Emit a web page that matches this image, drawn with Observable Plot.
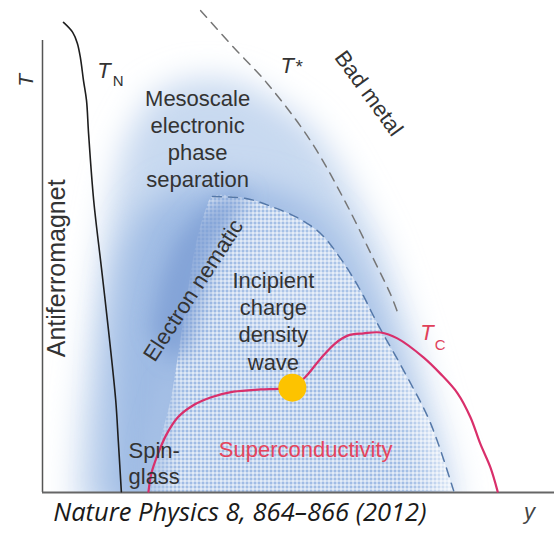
<!DOCTYPE html>
<html>
<head>
<meta charset="utf-8">
<script src="https://cdn.jsdelivr.net/npm/d3@7"></script>
<script src="https://cdn.jsdelivr.net/npm/@observablehq/plot@0.6"></script>
<style>
  html, body { margin: 0; padding: 0; background: #fff; }
  #chart svg { display: block; }
</style>
</head>
<body>
<div id="chart"></div>
<script>
// ---- Data (x = doping y, T = temperature, both normalised 0..1) ----
const tN = [[0.041,1.040],[0.059,1.018],[0.068,0.994],[0.074,0.962],[0.080,0.912],[0.086,0.867],
  [0.090,0.794],[0.100,0.646],[0.115,0.498],[0.129,0.358],[0.143,0.204],[0.148,0.115],[0.154,0.002]];
const tStar = [[0.309,1.066],[0.373,0.985],[0.439,0.905],[0.523,0.779],[0.590,0.646],[0.648,0.513],
  [0.680,0.438],[0.695,0.394]];
const nematic = [[0.332,0.655],[0.400,0.650],[0.451,0.631],[0.498,0.608],[0.543,0.573],[0.582,0.518],
  [0.621,0.447],[0.654,0.374],[0.713,0.254],[0.758,0.153],[0.803,0.004]];
const tC = [[0.207,0.002],[0.213,0.044],[0.225,0.084],[0.242,0.128],[0.264,0.166],[0.293,0.192],
  [0.328,0.210],[0.373,0.223],[0.426,0.228],[0.465,0.230],[0.488,0.235],[0.512,0.254],[0.543,0.296],
  [0.572,0.330],[0.596,0.347],[0.627,0.352],[0.660,0.354],[0.693,0.341],[0.744,0.299],[0.777,0.263],
  [0.811,0.219],[0.836,0.166],[0.855,0.108],[0.875,0.055],[0.889,0.002]];
const marker = [[0.488,0.232]];

// shaded regions (outlines)
const outerRegion = [[0.064,-0.040],[0.074,0.159],[0.094,0.336],[0.113,0.513],[0.133,0.646],[0.162,0.779],
  [0.211,0.878],[0.289,0.916],[0.377,0.912],[0.455,0.867],[0.523,0.812],[0.572,0.735],[0.621,0.635],
  [0.660,0.546],[0.691,0.447],[0.723,0.336],[0.758,0.204],[0.787,0.093],[0.813,-0.040]];
const middleRegion = [[0.123,-0.040],[0.129,0.159],[0.137,0.358],[0.156,0.513],[0.191,0.613],[0.250,0.668],
  [0.328,0.690],[0.426,0.679],[0.504,0.646],[0.563,0.591],[0.611,0.502],[0.656,0.381],[0.699,0.226],
  [0.738,0.093],[0.762,-0.040]];
const nematicBand = [[0.211,0.358],[0.230,0.469],[0.260,0.558],[0.309,0.624],[0.357,0.657],[0.406,0.664],
  [0.377,0.613],[0.338,0.535],[0.309,0.425],[0.285,0.314],[0.250,0.292]];
const spinBand = [[0.182,-0.018],[0.201,0.137],[0.230,0.248],[0.266,0.248],[0.250,0.137],[0.234,-0.018]];
const domeLeft = [[0.211,0.000],[0.230,0.115],[0.250,0.204],[0.266,0.314],[0.281,0.425],[0.299,0.546],[0.318,0.624]];
const dome = domeLeft.concat(nematic);
const domeCore = [[0.387,0.425],[0.406,0.546],[0.465,0.591],[0.543,0.558],[0.592,0.469],[0.582,0.358],
  [0.504,0.314],[0.426,0.336]];

const labels = {
  meso: "Mesoscale\nelectronic\nphase\nseparation",
  cdw: "Incipient\ncharge\ndensity\nwave",
  spin: "Spin-\nglass",
  sc: "Superconductivity",
  afm: "Antiferromagnet",
  nem: "Electron nematic",
  bad: "Bad metal",
  caption: "Nature Physics 8, 864–866 (2012)"
};

const ink = "#333";
const sans = "'Liberation Sans', Arial, Helvetica, sans-serif";

function defs(index, scales, values, dimensions, context) {
  const ns = "http://www.w3.org/2000/svg";
  const d = context.document.createElementNS(ns, "defs");
  d.innerHTML = `
    <filter id="b16" x="-50%" y="-50%" width="200%" height="200%"><feGaussianBlur stdDeviation="16"/></filter>
    <filter id="b10" x="-50%" y="-50%" width="200%" height="200%"><feGaussianBlur stdDeviation="10"/></filter>
    <filter id="b8" x="-50%" y="-50%" width="200%" height="200%"><feGaussianBlur stdDeviation="8"/></filter>
    <pattern id="mesh" width="4" height="4" patternUnits="userSpaceOnUse">
      <path d="M0 0.5H4M0.5 0V4" stroke="#ffffff" stroke-opacity="0.9" stroke-width="1" fill="none"/>
    </pattern>`;
  return d;
}

const X = d => d[0], Y = d => d[1];

const chart = Plot.plot({
  width: 554,
  height: 535,
  marginLeft: 42,
  marginRight: 0,
  marginTop: 40,
  marginBottom: 43,
  x: {domain: [0, 1], axis: null},
  y: {domain: [0, 1], axis: null},
  style: {fontFamily: sans, background: "#fff", overflow: "visible"},
  marks: [
    defs,
    Plot.line(outerRegion, {x: X, y: Y, curve: "linear-closed", fill: "#c8d9f0", stroke: "none", imageFilter: "url(#b16)", clip: true}),
    Plot.line(middleRegion, {x: X, y: Y, curve: "linear-closed", fill: "#9fbbe4", stroke: "none", imageFilter: "url(#b16)", clip: true}),
    Plot.line(domeCore, {x: X, y: Y, curve: "linear-closed", fill: "#ffffff", fillOpacity: 0.15, stroke: "none", imageFilter: "url(#b16)", clip: true}),
    Plot.line(dome, {x: X, y: Y, curve: "catmull-rom", fill: "url(#mesh)", stroke: "none", clip: true}),
    Plot.line(nematicBand, {x: X, y: Y, curve: "linear-closed", fill: "#7d9fd4", fillOpacity: 0.8, stroke: "none", imageFilter: "url(#b10)", clip: true}),
    Plot.line(spinBand, {x: X, y: Y, curve: "linear-closed", fill: "#a6c1e6", fillOpacity: 0.7, stroke: "none", imageFilter: "url(#b8)", clip: true}),
    // axes
    Plot.ruleX([0], {y1: 0, y2: 1, stroke: "#555", strokeWidth: 1.5}),
    Plot.ruleY([0], {x1: 0, x2: 1, stroke: "#666", strokeWidth: 2}),
    // phase boundaries
    Plot.line(tStar, {x: X, y: Y, curve: "catmull-rom", stroke: "#767676", strokeWidth: 1.5, strokeDasharray: "9,7"}),
    Plot.line(nematic, {x: X, y: Y, curve: "catmull-rom", stroke: "#5578a8", strokeWidth: 1.5, strokeDasharray: "9,7"}),
    Plot.line(tN, {x: X, y: Y, curve: "catmull-rom", stroke: "#1e1e1e", strokeWidth: 1.6}),
    Plot.line(tC, {x: X, y: Y, curve: "catmull-rom", stroke: "#d92f6b", strokeWidth: 2.2}),
    Plot.dot(marker, {x: X, y: Y, r: 14, fill: "#fdc300", stroke: "none"}),
    // region labels
    Plot.text([labels.meso], {x: 0.303, y: 0.785, text: d => d, fontSize: 22, lineHeight: 1.23, fill: ink}),
    Plot.text([labels.cdw], {x: 0.451, y: 0.381, text: d => d, fontSize: 22, lineHeight: 1.23, fill: ink}),
    Plot.text([labels.spin], {x: 0.168, y: 0.066, text: d => d, fontSize: 22, lineHeight: 1.18, textAnchor: "start", fill: ink}),
    Plot.text([labels.sc], {x: 0.514, y: 0.095, text: d => d, fontSize: 22, fill: "#e5455d"}),
    Plot.text([labels.afm], {x: 0.029, y: 0.496, text: d => d, fontSize: 25, rotate: -90, fill: ink}),
    Plot.text([labels.nem], {x: 0.295, y: 0.447, text: d => d, fontSize: 22, rotate: -57, fill: ink}),
    Plot.text([labels.bad], {x: 0.637, y: 0.883, text: d => d, fontSize: 22, rotate: 54, fill: ink}),
    // line labels
    Plot.text(["T"], {x: 0.107, y: 0.916, text: d => d, fontSize: 22, fontStyle: "italic", textAnchor: "start", lineAnchor: "bottom", fill: ink}),
    Plot.text(["N"], {x: 0.137, y: 0.900, text: d => d, fontSize: 15, textAnchor: "start", lineAnchor: "bottom", fill: ink}),
    Plot.text(["T"], {x: 0.465, y: 0.927, text: d => d, fontSize: 22, fontStyle: "italic", textAnchor: "start", lineAnchor: "bottom", fill: ink}),
    Plot.text(["*"], {x: 0.494, y: 0.929, text: d => d, fontSize: 19, textAnchor: "start", lineAnchor: "bottom", fill: ink}),
    Plot.text(["T"], {x: 0.738, y: 0.338, text: d => d, fontSize: 22, fontStyle: "italic", textAnchor: "start", lineAnchor: "bottom", fill: "#e0405a"}),
    Plot.text(["C"], {x: 0.766, y: 0.316, text: d => d, fontSize: 15, textAnchor: "start", lineAnchor: "bottom", fill: "#e0405a"}),
    // axis labels
    Plot.text(["T"], {x: -0.031, y: 0.912, text: d => d, fontSize: 21, fontStyle: "italic", rotate: -90, fill: ink}),
    Plot.text(["y"], {x: 0.951, y: -0.042, text: d => d, fontSize: 22, fontStyle: "italic", fill: "#444"}),
    // source caption
    Plot.text([labels.caption], {x: 0.021, y: -0.062, text: d => d, fontSize: 25.5, fontStyle: "italic", textAnchor: "start", lineAnchor: "bottom", fontFamily: "'Open Sans', sans-serif", fill: "#1a1a1a"})
  ]
});
document.getElementById("chart").appendChild(chart);
</script>
</body>
</html>
